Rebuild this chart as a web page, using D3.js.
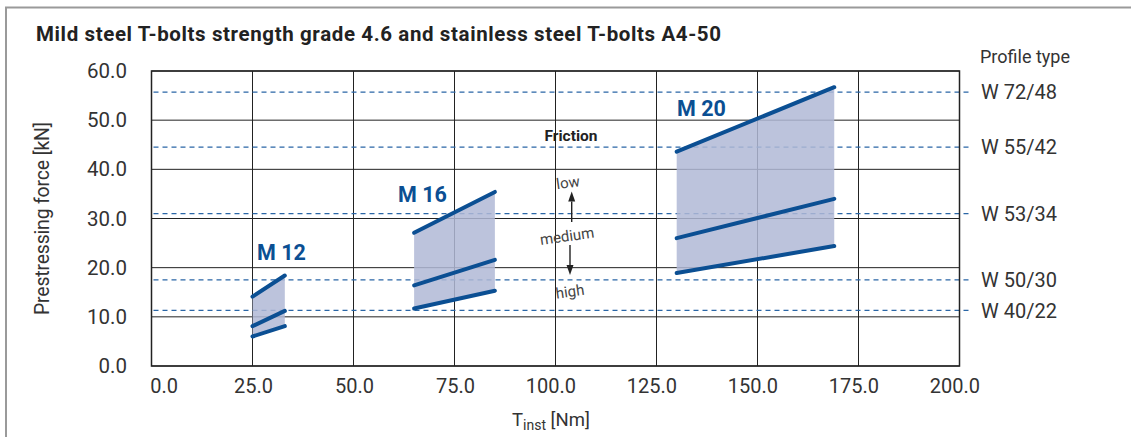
<!DOCTYPE html>
<html><head><meta charset="utf-8">
<script src="https://cdn.jsdelivr.net/npm/d3@7"></script>
<style>
html,body{margin:0;padding:0;background:#fff;}
svg{display:block;}
text{font-family:"Roboto","Noto Sans",sans-serif;}
</style></head>
<body>
<svg id="chart" width="1131" height="437"></svg>
<script>
// ---- data ----
const title = "Mild steel T-bolts strength grade 4.6 and stainless steel T-bolts A4-50";
const xTicks = [0, 25, 50, 75, 100, 125, 150, 175, 200];
const yTicks = [0, 10, 20, 30, 40, 50, 60];
const boltNames = ["M 12", "M 16", "M 20"];
const torqueStart = [25, 65, 130];
const torqueEnd = [33, 85, 169];
const lowStart = [14.1, 27.1, 43.6];
const lowEnd = [18.4, 35.4, 56.7];
const mediumStart = [8.1, 16.4, 26.0];
const mediumEnd = [11.2, 21.6, 34.0];
const highStart = [6.0, 11.7, 18.9];
const highEnd = [8.1, 15.3, 24.4];
const profileNames = ["W 72/48", "W 55/42", "W 53/34", "W 50/30", "W 40/22"];
const profileForce = [55.7, 44.5, 31.0, 17.5, 11.3];
const frictionLabels = ["low", "medium", "high"];

// ---- layout ----
const svg = d3.select("#chart");
const x = d3.scaleLinear().domain([0, 200]).range([151.5, 959.5]);
const y = d3.scaleLinear().domain([0, 60]).range([366, 71]);
const lineColor = "#0b4f93";
const dashColor = "#2a66a6";
const fillColor = "#b0b8d6";
const textColor = "#333";

// outer frame
svg.append("path").attr("d", "M6,437 V7.5 H1131").attr("fill", "none")
  .attr("stroke", "#9a9a9a").attr("stroke-width", 2);

// title
svg.append("text").attr("x", 36).attr("y", 41).text(title)
  .attr("font-size", 20.5).attr("font-weight", "bold").attr("fill", "#222")
  .attr("textLength", 685).attr("lengthAdjust", "spacing");

// grid
const g = svg.append("g");
g.selectAll(".gx").data(xTicks).join("line")
  .attr("x1", d => x(d)).attr("x2", d => x(d))
  .attr("y1", y(0)).attr("y2", y(60)).attr("stroke", "#222").attr("stroke-width", 1);
g.selectAll(".gy").data(yTicks).join("line")
  .attr("y1", d => y(d)).attr("y2", d => y(d))
  .attr("x1", x(0)).attr("x2", x(200)).attr("stroke", "#222").attr("stroke-width", 1);

// axes (tick labels)
const xAxis = d3.axisBottom(x).tickValues(xTicks).tickFormat(d3.format(".1f")).tickSize(0).tickPadding(0);
const xg = svg.append("g").attr("transform", `translate(0,${y(0)})`).call(xAxis);
xg.select(".domain").remove();
xg.selectAll("text").attr("font-size", 20).attr("fill", textColor)
  .attr("font-family", "Roboto, sans-serif").attr("dy", null).attr("y", 27)
  .attr("text-anchor", "end").attr("x", d => d === 0 ? 26 : 20);
const yAxis = d3.axisLeft(y).tickValues(yTicks).tickFormat(d3.format(".1f")).tickSize(0).tickPadding(24.5);
const yg = svg.append("g").attr("transform", `translate(${x(0)},0)`).call(yAxis);
yg.select(".domain").remove();
yg.selectAll("text").attr("font-size", 20.5).attr("fill", textColor).attr("font-family", "Roboto, sans-serif");

// axis titles
svg.append("text").attr("transform", `translate(49,${(y(0)+y(60))/2}) rotate(-90)`)
  .attr("text-anchor", "middle").attr("font-size", 19.5).attr("fill", textColor)
  .attr("textLength", 193).attr("lengthAdjust", "spacing")
  .text("Prestressing force [kN]");
const xt = svg.append("text").attr("x", 512).attr("y", 426)
  .attr("font-size", 18.5).attr("fill", textColor);
xt.append("tspan").text("T");
xt.append("tspan").text("inst").attr("font-size", 14).attr("dy", 4);
xt.append("tspan").text(" [Nm]").attr("dy", -4);

// profile dashed lines
svg.selectAll(".pl").data(profileForce).join("line")
  .attr("x1", x(0) + 2).attr("x2", 972).attr("y1", d => y(d)).attr("y2", d => y(d))
  .attr("stroke", dashColor).attr("stroke-width", 1.3).attr("stroke-dasharray", "5,4");
svg.selectAll(".plab").data(profileNames).join("text")
  .attr("x", 981).attr("y", (d, i) => y(profileForce[i])).attr("dy", "0.36em")
  .attr("font-size", 20).attr("fill", textColor).text(d => d);
svg.append("text").attr("x", 980).attr("y", 63).attr("font-size", 18).attr("fill", textColor).text("Profile type");

// bands
const bands = boltNames.map((n, i) => ({
  name: n, x0: torqueStart[i], x1: torqueEnd[i],
  low: [lowStart[i], lowEnd[i]], med: [mediumStart[i], mediumEnd[i]], high: [highStart[i], highEnd[i]]
}));
svg.selectAll(".band").data(bands).join("path")
  .attr("d", b => `M${x(b.x0)},${y(b.low[0])}L${x(b.x1)},${y(b.low[1])}L${x(b.x1)},${y(b.high[1])}L${x(b.x0)},${y(b.high[0])}Z`)
  .attr("fill", fillColor).attr("fill-opacity", 0.85);

// plot border
svg.append("rect").attr("x", x(0)).attr("y", y(60)).attr("width", x(200) - x(0))
  .attr("height", y(0) - y(60)).attr("fill", "none").attr("stroke", "#222").attr("stroke-width", 1.5);

// band lines
const lg = svg.append("g");
bands.forEach(b => {
  ["low", "med", "high"].forEach(k => {
    lg.append("line").attr("x1", x(b.x0)).attr("x2", x(b.x1))
      .attr("y1", y(b[k][0])).attr("y2", y(b[k][1]))
      .attr("stroke", lineColor).attr("stroke-width", 4).attr("stroke-linecap", "round");
  });
});

// bolt labels
const labelPos = [[257, 260], [398, 201.5], [677, 115.5]];
svg.selectAll(".bl").data(boltNames).join("text")
  .attr("x", (d, i) => labelPos[i][0]).attr("y", (d, i) => labelPos[i][1])
  .attr("font-size", 21.5).attr("font-weight", "bold").attr("fill", lineColor).text(d => d);

// friction annotation
svg.append("text").attr("x", 571).attr("y", 140.5).attr("text-anchor", "middle")
  .attr("font-size", 15.5).attr("font-weight", "bold").attr("fill", "#222").text("Friction");
const fpos = [[568, 182.5], [567, 236], [570, 291.5]];
svg.selectAll(".fl").data(frictionLabels).join("text")
  .attr("transform", (d, i) => `translate(${fpos[i][0]},${fpos[i][1]}) rotate(-8)`)
  .attr("text-anchor", "middle").attr("dy", "0.35em")
  .attr("font-size", 15).attr("fill", "#444").text(d => d);
// arrows
function arrow(xp, yFrom, yTo) {
  const dir = yTo < yFrom ? 1 : -1;
  const base = yTo + dir * 10;
  svg.append("line").attr("x1", xp).attr("x2", xp).attr("y1", yFrom).attr("y2", base)
    .attr("stroke", "#222").attr("stroke-width", 1.4);
  svg.append("path").attr("d", `M${xp},${yTo}L${xp - 3.5},${base}L${xp + 3.5},${base}Z`).attr("fill", "#222");
}
arrow(571.7, 222, 191.5);
arrow(570, 245, 275);
</script>
</body></html>
